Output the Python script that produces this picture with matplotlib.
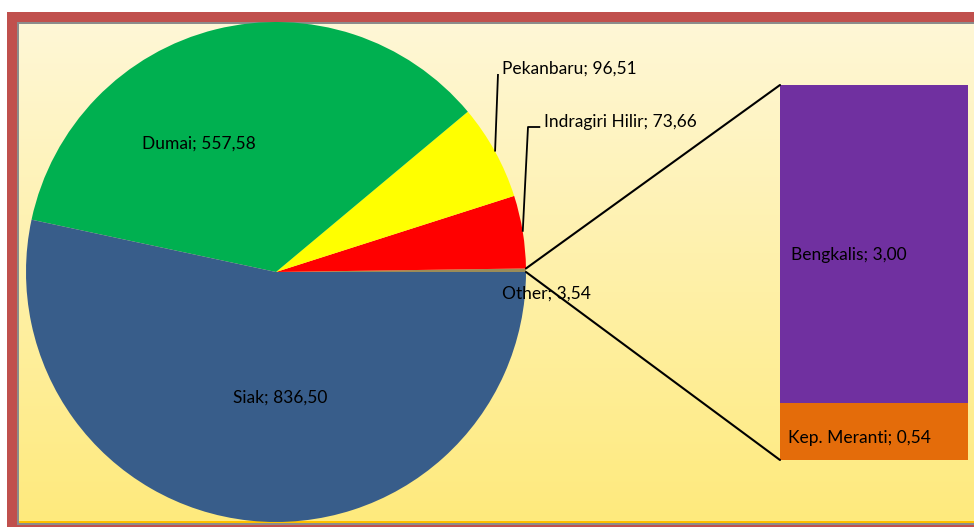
import numpy as np
import matplotlib
matplotlib.use("Agg")
import matplotlib.pyplot as plt
from matplotlib.patches import Rectangle, ConnectionPatch

# pie data (counterclockwise from 3 o'clock)
pie_names = ["Other", "Indragiri Hilir", "Pekanbaru", "Dumai", "Siak"]
pie_values = [3.54, 73.66, 96.51, 557.58, 836.50]
pie_colors = ["#9A8C58", "#FF0000", "#FFFF00", "#00B050", "#385D8A"]

# "Other" split into the bar
bar_names = ["Kep. Meranti", "Bengkalis"]
bar_values = [0.54, 3.00]
bar_colors = ["#E46C0A", "#7030A0"]

W, H = 974, 527
plt.rcParams['font.family'] = ['Lato', 'DejaVu Sans']
FS = 12.5


def fmt(name, v):
    return name + "; " + f"{v:.2f}".replace(".", ",")


fig = plt.figure(figsize=(W / 100, H / 100), dpi=100)
fig.patch.set_facecolor("white")

# background: frame + gradient, in pixel coords
bg = fig.add_axes([0, 0, 1, 1])
bg.add_patch(Rectangle((7, 12), W, H, facecolor="#C0504D", edgecolor="none", zorder=1))
bg.add_patch(Rectangle((17, 22), W, 503, facecolor="#8C8C8C", edgecolor="none", zorder=1))
grad = np.linspace(0, 1, 256)[:, None]
top = np.array([254, 247, 214]) / 255.
bot = np.array([255, 234, 125]) / 255.
img = top[None, None, :] * (1 - grad[..., None]) + bot[None, None, :] * grad[..., None]
bg.imshow(img, extent=[19, W, 521, 24], aspect="auto", interpolation="bilinear", zorder=2)
bg.add_patch(Rectangle((19, 521), W, 2, facecolor="#FFC000", edgecolor="none", zorder=3))
bg.set_xlim(0, W)
bg.set_ylim(H, 0)
bg.axis("off")

# pie: centre (276, 272), radius 250 px
cx, cy, r = 276, 272, 250
ax = fig.add_axes([(cx - r) / W, (H - cy - r) / H, 2 * r / W, 2 * r / H])
wedges, _ = ax.pie(pie_values, colors=pie_colors, startangle=0, counterclock=True,
                   radius=1, wedgeprops=dict(linewidth=0))
ax.set_xlim(-1, 1)
ax.set_ylim(-1, 1)
ax.axis("off")


def px(x, y):
    # pixel position -> pie axes units
    return (x - cx) / r, (cy - y) / r


# labels inside
ax.text(*px(199, 144), fmt("Dumai", pie_values[3]), ha="center", va="center", fontsize=FS)
ax.text(*px(280, 398), fmt("Siak", pie_values[4]), ha="center", va="center", fontsize=FS)
ax.text(*px(502, 294), fmt("Other", pie_values[0]), ha="left", va="center", fontsize=FS)

# labels with leader lines
for i, (elbow, tx) in {2: (px(498, 74), px(502, 69)), 1: (px(528, 127), px(544, 122))}.items():
    w = wedges[i]
    mid = np.deg2rad((w.theta1 + w.theta2) / 2)
    x0, y0 = np.cos(mid), np.sin(mid)
    xs = [x0, elbow[0]]
    ys = [y0, elbow[1]]
    if i == 1:
        xs.append(tx[0] - 0.015)
        ys.append(elbow[1])
    ax.plot(xs, ys, color="black", lw=1.3, solid_capstyle="butt", clip_on=False)
    ax.text(tx[0], tx[1], fmt(pie_names[i], pie_values[i]), ha="left", va="center",
            fontsize=FS, clip_on=False)

# stacked bar
bx = fig.add_axes([780 / W, (H - 460) / H, 188 / W, 375 / H])
bottom = 0
for name, v, c in zip(bar_names, bar_values, bar_colors):
    bx.bar(0, v, width=1, bottom=bottom, align="edge", color=c, linewidth=0)
    bottom += v
bx.set_xlim(0, 1)
bx.set_ylim(0, sum(bar_values))
bx.axis("off")
bx.text(0.058, 1.935, fmt(bar_names[1], bar_values[1]), ha="left", va="center", fontsize=FS)
bx.text(0.04, 0.21, fmt(bar_names[0], bar_values[0]), ha="left", va="center", fontsize=FS)

# connector lines
t2 = np.deg2rad(wedges[0].theta2)
for xyA, xyB in [((np.cos(t2), np.sin(t2)), (0, sum(bar_values))), ((1, 0), (0, 0))]:
    con = ConnectionPatch(xyA=xyA, coordsA=ax.transData, xyB=xyB, coordsB=bx.transData,
                          color="black", linewidth=1.5)
    fig.add_artist(con)

fig.savefig("out.png", dpi=100)
